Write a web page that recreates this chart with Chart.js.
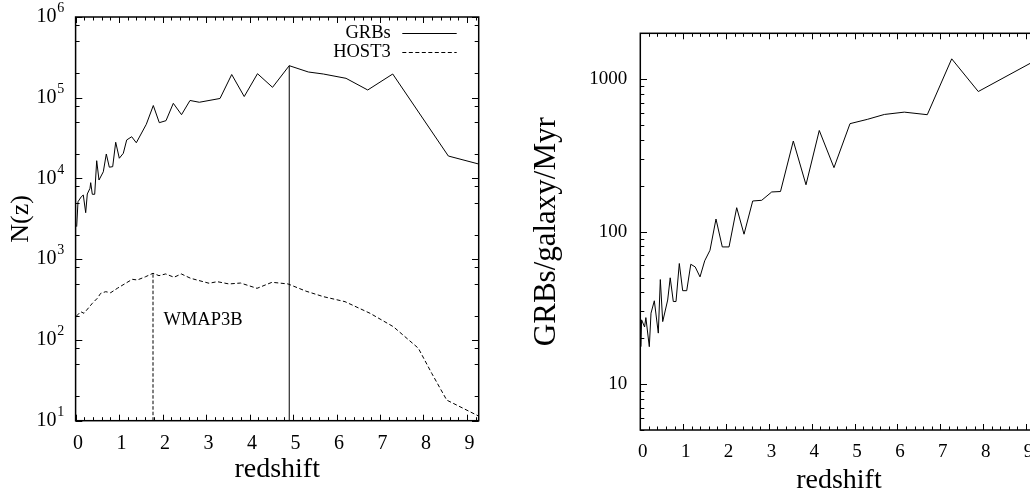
<!DOCTYPE html>
<html>
<head>
<meta charset="utf-8">
<script src="https://cdn.jsdelivr.net/npm/chart.js@4.4.1/dist/chart.umd.min.js"></script>
<style>
  html, body { margin: 0; padding: 0; background: #fff; width: 1030px; height: 492px; overflow: hidden; }
  canvas { position: absolute; top: 0; }
  #left { left: 0; }
  #right { left: 520px; }
</style>
</head>
<body>
<canvas id="left" width="520" height="492"></canvas>
<canvas id="right" width="540" height="492"></canvas>
<script>
// ---- data ----
// GRB counts per redshift bin
const grbZ = [0.025, 0.055, 0.131, 0.177, 0.232, 0.269, 0.331, 0.347, 0.384, 0.439,
              0.485, 0.538, 0.637, 0.706, 0.775, 0.853, 0.922, 1.005, 1.097, 1.175,
              1.290, 1.396, 1.626, 1.787, 1.925, 2.079, 2.247, 2.436, 2.631, 2.845,
              3.321, 3.590, 3.878, 4.183, 4.529, 4.913, 5.352, 5.697, 6.219, 6.718,
              7.293, 8.572, 9.27];
const grbN = [2530, 5150, 5940, 6240, 3770, 6430, 7560, 8870, 6370, 6370,
              16600, 9570, 12100, 20100, 13800, 14000, 28100, 17800, 20500, 30000,
              32900, 27700, 46900, 80100, 49100, 52000, 85300, 61700, 92500, 87900,
              97900, 194000, 103500, 198500, 134600, 249500, 208400, 196800, 174000, 124700,
              196800, 18970, 15100];

// host galaxy counts (HOST3)
const hostZ = [0.02, 0.117, 0.193, 0.384, 0.499, 0.577, 0.692, 0.807, 0.959, 1.152,
               1.304, 1.419, 1.612, 1.780, 1.918, 2.072, 2.263, 2.431, 2.647, 3.068,
               3.259, 3.528, 3.793, 4.172, 4.517, 4.885, 5.299, 5.697, 6.196, 6.771,
               7.307, 7.882, 8.190, 8.535, 9.27];
const hostN = [198, 224, 214, 284, 328, 378, 396, 385, 436, 504,
               564, 553, 608, 670, 626, 657, 598, 657, 580, 504,
               527, 494, 507, 436, 518, 494, 402, 344, 298, 214,
               146, 79, 38.6, 18.0, 11.4];

// GRB rate per galaxy per Myr
const rateZ = [0.016, 0.03, 0.1, 0.13, 0.21, 0.25, 0.327, 0.42, 0.467, 0.523,
               0.639, 0.698, 0.77, 0.833, 0.91, 0.989, 1.083, 1.178, 1.281, 1.393,
               1.503, 1.626, 1.766, 1.913, 2.07, 2.249, 2.42, 2.623, 2.833, 3.066,
               3.271, 3.57, 3.866, 4.176, 4.519, 4.893, 5.296, 5.694, 6.16, 6.696,
               7.266, 7.886, 9.27];
const rateV = [17.6, 26.4, 23.7, 27.3, 17.6, 29.2, 35.2, 21.6, 48.5, 25.7,
               35.6, 49.8, 34.8, 34.8, 61.8, 41.0, 41.0, 61.1, 58.7, 50.5,
               64.4, 75.5, 121, 79.4, 79.4, 143.6, 96.2, 158.9, 160.6, 182.1,
               183.3, 393, 203, 461, 263, 511, 545, 587, 608, 585,
               1360, 830, 1350];

// axes
const xTickLabels = [0, 1, 2, 3, 4, 5, 6, 7, 8, 9];
const xMin = 0, xMax = 9.27;
const leftExponents = [1, 2, 3, 4, 5, 6];
const rightYTicks = [10, 100, 1000];
const rightYMin = 5, rightYMax = 2000;

const SERIF = '"Liberation Serif", "Times New Roman", serif';
const toPts = (xs, ys) => xs.map((x, i) => ({ x: x, y: ys[i] }));

// inward tick marks on all four sides plus the plot frame
const framePlugin = {
  id: 'frame',
  afterDatasetsDraw(chart, args, o) {
    const { ctx, chartArea: a, scales: { x, y } } = chart;
    ctx.save();
    ctx.strokeStyle = '#000';
    ctx.lineWidth = 1;
    ctx.beginPath();
    // x ticks
    const n = Math.round((x.max - x.min) / o.xMinor);
    for (let i = 0; i <= n; i++) {
      const v = x.min + i * o.xMinor;
      if (v > x.max + 1e-9) break;
      const px = Math.round(x.getPixelForValue(v)) + 0.5;
      const major = Math.abs(v - Math.round(v)) < 1e-6;
      const len = major ? 6 : 3.5;
      ctx.moveTo(px, a.bottom); ctx.lineTo(px, a.bottom - len);
      ctx.moveTo(px, a.top); ctx.lineTo(px, a.top + len);
    }
    // y ticks (log)
    const k0 = Math.floor(Math.log10(y.min)), k1 = Math.ceil(Math.log10(y.max));
    for (let k = k0; k <= k1; k++) {
      [1].concat(o.yMinor).forEach(m => {
        const v = m * Math.pow(10, k);
        if (v < y.min * 0.999 || v > y.max * 1.001) return;
        const py = Math.round(y.getPixelForValue(v)) + 0.5;
        const len = m === 1 ? 6.7 : 4;
        ctx.moveTo(a.left, py); ctx.lineTo(a.left + len, py);
        ctx.moveTo(a.right, py); ctx.lineTo(a.right - len, py);
      });
    }
    ctx.stroke();
    ctx.lineWidth = 1.5;
    ctx.strokeRect(a.left, a.top, a.right - a.left, a.bottom - a.top);
    ctx.restore();
  }
};

// power-of-ten labels for the left log axis
const powerLabels = {
  id: 'powerLabels',
  afterDraw(chart, args, o) {
    if (!o.exponents) return;
    const { ctx, chartArea: a, scales: { y } } = chart;
    ctx.save();
    ctx.fillStyle = '#000';
    o.exponents.forEach(e => {
      const py = y.getPixelForValue(Math.pow(10, e));
      ctx.textBaseline = 'middle';
      ctx.textAlign = 'right';
      ctx.font = '20px ' + SERIF;
      ctx.fillText('10', a.left - 19, py);
      ctx.textAlign = 'left';
      ctx.font = '14px ' + SERIF;
      ctx.fillText(String(e), a.left - 18.3, py - 8.5);
    });
    ctx.restore();
  }
};

// key: label text right-aligned, line sample to its right
const keyPlugin = {
  id: 'key',
  afterDraw(chart, args, o) {
    if (!o.show) return;
    const { ctx } = chart;
    ctx.save();
    ctx.fillStyle = '#000';
    ctx.strokeStyle = '#000';
    ctx.lineWidth = 1;
    ctx.font = '18.5px ' + SERIF;
    ctx.textAlign = 'right';
    ctx.textBaseline = 'middle';
    o.items.forEach((idx, i) => {
      const ds = chart.data.datasets[idx];
      const yy = o.y + i * o.dy;
      ctx.fillText(ds.label, o.textRight, yy);
      ctx.setLineDash(ds.borderDash || []);
      ctx.beginPath();
      ctx.moveTo(o.lineFrom, Math.round(yy) + 0.5);
      ctx.lineTo(o.lineTo, Math.round(yy) + 0.5);
      ctx.stroke();
    });
    ctx.restore();
  }
};

// free text placed at data coordinates
const notePlugin = {
  id: 'note',
  afterDraw(chart, args, o) {
    if (!o.text) return;
    const { ctx, scales: { x, y } } = chart;
    ctx.save();
    ctx.fillStyle = '#000';
    ctx.font = '18.5px ' + SERIF;
    ctx.textAlign = 'left';
    ctx.textBaseline = 'middle';
    ctx.fillText(o.text, x.getPixelForValue(o.x), y.getPixelForValue(o.y));
    ctx.restore();
  }
};

Chart.register(framePlugin, powerLabels, keyPlugin, notePlugin);

const lineStyle = { showLine: true, borderColor: '#000', backgroundColor: '#000', borderWidth: 1,
                    pointRadius: 0, pointHoverRadius: 0, tension: 0, fill: false };

// peaks of each series, marked with a vertical drop line
const gi = grbN.indexOf(Math.max(...grbN));
const hi = hostN.indexOf(Math.max(...hostN));
const leftYMin = Math.pow(10, leftExponents[0]);
const leftYMax = Math.pow(10, leftExponents[leftExponents.length - 1]);

new Chart(document.getElementById('left'), {
  type: 'scatter',
  data: {
    datasets: [
      Object.assign({ label: 'GRBs', data: toPts(grbZ, grbN) }, lineStyle),
      Object.assign({ label: 'HOST3', data: toPts(hostZ, hostN), borderDash: [4, 2.5] }, lineStyle),
      Object.assign({ label: 'GRBs peak', data: [{ x: grbZ[gi], y: leftYMin }, { x: grbZ[gi], y: grbN[gi] }] }, lineStyle),
      Object.assign({ label: 'HOST3 peak', data: [{ x: hostZ[hi], y: leftYMin }, { x: hostZ[hi], y: hostN[hi] }], borderDash: [3.5, 2] }, lineStyle)
    ]
  },
  options: {
    responsive: false,
    animation: false,
    events: [],
    layout: { padding: { left: 0, top: 17, right: 41.3, bottom: 0 } },
    plugins: {
      legend: { display: false },
      tooltip: { enabled: false },
      frame: { xMinor: 0.2, yMinor: [2, 5, 8] },
      powerLabels: { exponents: leftExponents },
      key: { show: true, items: [0, 1], y: 33.3, dy: 18.7, textRight: 390.7, lineFrom: 402.3, lineTo: 456.7 },
      note: { text: 'WMAP3B', x: 2.02, y: 177 }
    },
    scales: {
      x: {
        type: 'linear', min: xMin, max: xMax,
        afterBuildTicks: s => { s.ticks = xTickLabels.map(v => ({ value: v })); },
        afterFit: s => { s.height = 71.3; },
        grid: { display: false, drawTicks: false },
        border: { display: false },
        ticks: { color: '#000', font: { family: SERIF, size: 20 }, padding: 11, labelOffset: 2.5, maxRotation: 0, autoSkip: false },
        title: { display: true, text: 'redshift', color: '#000', font: { family: SERIF, size: 28 }, padding: { top: 0, bottom: 6 } }
      },
      y: {
        type: 'logarithmic', min: leftYMin, max: leftYMax,
        afterBuildTicks: s => { s.ticks = leftExponents.map(e => ({ value: Math.pow(10, e) })); },
        afterFit: s => { s.width = 75.6; },
        grid: { display: false, drawTicks: false },
        border: { display: false },
        ticks: { display: false },
        title: { display: true, text: 'N(z)', color: '#000', font: { family: SERIF, size: 26 }, padding: { top: 6, bottom: 0 } }
      }
    }
  }
});

new Chart(document.getElementById('right'), {
  type: 'scatter',
  data: {
    datasets: [
      Object.assign({ label: 'GRBs/galaxy/Myr', data: toPts(rateZ, rateV) }, lineStyle)
    ]
  },
  options: {
    responsive: false,
    animation: false,
    events: [],
    layout: { padding: { left: 0, top: 33.3, right: 22.4, bottom: 0 } },
    plugins: {
      legend: { display: false },
      tooltip: { enabled: false },
      frame: { xMinor: 0.2, yMinor: [2, 3, 4, 5, 6, 7, 8, 9] },
      powerLabels: {},
      key: { show: false },
      note: {}
    },
    scales: {
      x: {
        type: 'linear', min: xMin, max: xMax,
        afterBuildTicks: s => { s.ticks = xTickLabels.map(v => ({ value: v })); },
        afterFit: s => { s.height = 62; },
        grid: { display: false, drawTicks: false },
        border: { display: false },
        ticks: { color: '#000', font: { family: SERIF, size: 19 }, padding: 11, labelOffset: 2.5, maxRotation: 0, autoSkip: false },
        title: { display: true, text: 'redshift', color: '#000', font: { family: SERIF, size: 28 }, padding: { top: 0, bottom: -5 } }
      },
      y: {
        type: 'logarithmic', min: rightYMin, max: rightYMax,
        afterBuildTicks: s => { s.ticks = rightYTicks.map(v => ({ value: v })); },
        afterFit: s => { s.width = 120.3; },
        grid: { display: false, drawTicks: false },
        border: { display: false },
        ticks: { color: '#000', font: { family: SERIF, size: 19 }, padding: 13, callback: v => String(v) },
        title: { display: true, text: 'GRBs/galaxy/Myr', color: '#000', font: { family: SERIF, size: 31 }, padding: { top: 8.5, bottom: 0 } }
      }
    }
  }
});
</script>
</body>
</html>
